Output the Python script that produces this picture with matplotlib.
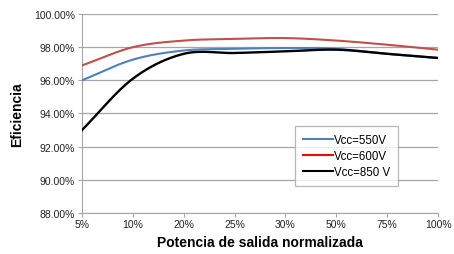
import numpy as np
import matplotlib
matplotlib.use("Agg")
import matplotlib.pyplot as plt
from matplotlib.lines import Line2D

plt.rcParams['font.family'] = ['Liberation Sans', 'DejaVu Sans']

categorias = ["5%", "10%", "20%", "25%", "30%", "50%", "75%", "100%"]
vcc_550 = [96.0, 97.25, 97.8, 97.9, 97.95, 97.9, 97.6, 97.35]
vcc_600 = [96.9, 98.0, 98.4, 98.5, 98.55, 98.4, 98.15, 97.85]
vcc_850 = [93.0, 96.1, 97.6, 97.65, 97.75, 97.85, 97.6, 97.35]


# curva suavizada tipo Excel (Catmull-Rom) solo para el trazo
def suavizar(y, n=20):
    y = np.asarray(y, dtype=float)
    x = np.arange(len(y), dtype=float)
    xp = np.concatenate([[2 * x[0] - x[1]], x, [2 * x[-1] - x[-2]]])
    yp = np.concatenate([[2 * y[0] - y[1]], y, [2 * y[-1] - y[-2]]])
    xs, ys = [], []
    for i in range(1, len(xp) - 2):
        t = np.linspace(0, 1, n, endpoint=False)
        for arr, out in ((xp, xs), (yp, ys)):
            p0, p1, p2, p3 = arr[i - 1], arr[i], arr[i + 1], arr[i + 2]
            out.extend(0.5 * ((2 * p1) + (-p0 + p2) * t
                              + (2 * p0 - 5 * p1 + 4 * p2 - p3) * t ** 2
                              + (-p0 + 3 * p1 - 3 * p2 + p3) * t ** 3))
    xs.append(x[-1])
    ys.append(y[-1])
    return np.array(xs), np.array(ys)


fig = plt.figure(figsize=(4.54, 2.55), dpi=100)
ax = fig.add_axes([0.1806, 0.161, 0.7842, 0.780])

colores = ["#4F81BD", "#C0504D", "black"]
for serie, c in zip([vcc_550, vcc_600, vcc_850], colores):
    xs, ys = suavizar(serie)
    ax.plot(xs, ys, color=c, lw=1.5 if c != "black" else 1.7, zorder=3)

ax.set_xlim(0, len(categorias) - 1)
ax.set_ylim(88, 100)
ax.set_xticks(range(len(categorias)))
ax.set_xticklabels(categorias)
yt = np.arange(88, 100.1, 2)
ax.set_yticks(yt)
ax.set_yticklabels(["%.2f%%" % v for v in yt])
ax.grid(axis='y', color='#A6A6A6', lw=0.9)
ax.set_axisbelow(True)
for s in ["top", "right"]:
    ax.spines[s].set_visible(False)
for s in ["left", "bottom"]:
    ax.spines[s].set_color('#A6A6A6')
ax.tick_params(labelsize=7.5, colors='#A6A6A6', length=3, labelcolor='#222222')
ax.tick_params(axis='x', pad=1)
ax.tick_params(axis='y', pad=2)

ax.set_ylabel("Eficiencia", fontsize=10, fontweight='bold')
ax.yaxis.set_label_coords(-0.162, 0.5)
ax.set_xlabel("Potencia de salida normalizada", fontsize=10, fontweight='bold')
ax.xaxis.set_label_coords(0.5, -0.113)

handles = [Line2D([], [], color="#4F81BD", lw=1.5),
           Line2D([], [], color="#FF0000", lw=1.5),
           Line2D([], [], color="black", lw=1.5)]
leg = ax.legend(handles, ["Vcc=550V", "Vcc=600V", "Vcc=850 V"],
                loc='upper left', bbox_to_anchor=(0.598, 0.437),
                fontsize=8.3, frameon=True, fancybox=False, handlelength=2.6,
                handletextpad=0.1, borderpad=0.7, labelspacing=0.35,
                borderaxespad=0)
leg.get_frame().set_edgecolor('#A6A6A6')
leg.get_frame().set_linewidth(0.9)

fig.savefig("out.png", dpi=100)
